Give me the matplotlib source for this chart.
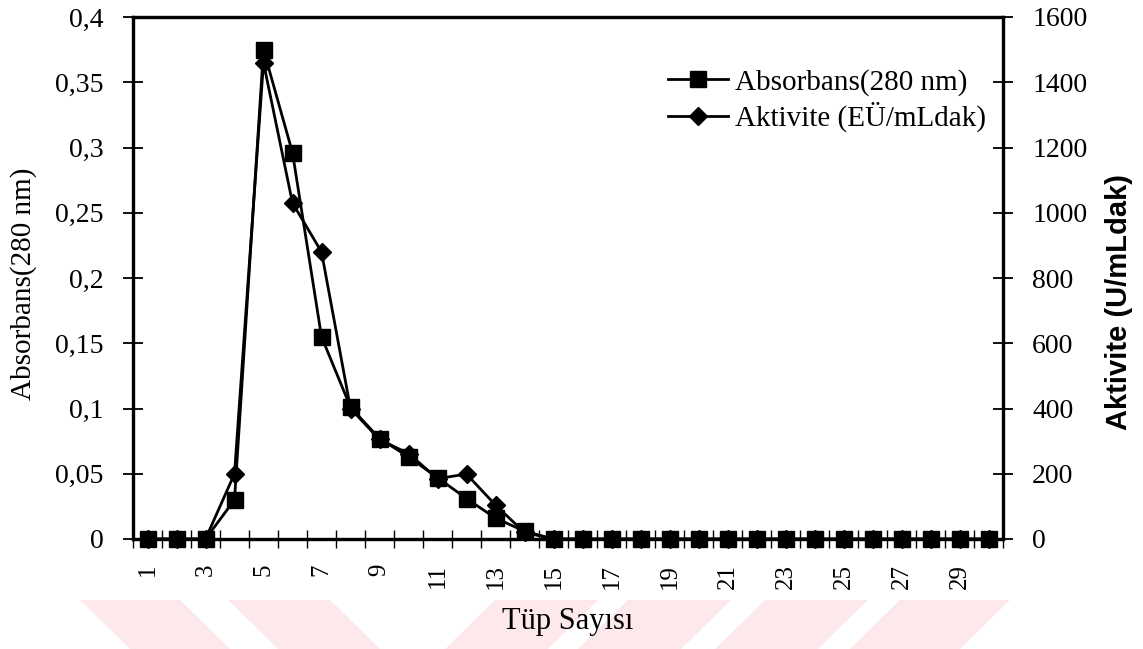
import matplotlib
matplotlib.use('Agg')
import matplotlib.pyplot as plt
from matplotlib.patches import Polygon
from matplotlib.lines import Line2D
import numpy as np

# ---- data ----
tubes = list(range(1, 31))
absorbans = [0, 0, 0, 0.030, 0.375, 0.296, 0.155, 0.101, 0.077, 0.063,
             0.047, 0.031, 0.016, 0.006] + [0] * 16
aktivite = [0, 0, 0, 200, 1460, 1030, 880, 400, 305, 262,
            185, 199, 104, 20] + [0] * 16
xtick_values = list(range(1, 31, 2))
xtick_labels = [str(v) for v in xtick_values]
left_ticks = [0, 0.05, 0.1, 0.15, 0.2, 0.25, 0.3, 0.35, 0.4]
left_labels = ['0', '0,05', '0,1', '0,15', '0,2', '0,25', '0,3', '0,35', '0,4']
right_ticks = [0, 200, 400, 600, 800, 1000, 1200, 1400, 1600]
right_labels = [str(v) for v in right_ticks]

SERIF = 'Liberation Serif'
SANS = 'Liberation Sans'

W, H = 1143, 649
fig = plt.figure(figsize=(W / 100, H / 100), dpi=100)
fig.patch.set_facecolor('white')

# watermark bands (light pink) in the bottom strip
pink = '#fde8ec'
y_top, y_bot = 600, 649
bands = [(80, 180, 50), (228, 330, 50), (495, 598, -50),
         (628, 731, -50), (765, 868, -50), (900, 1010, -50)]
for x0, x1, d in bands:
    pts = [(x0 / W, 1 - y_top / H), (x1 / W, 1 - y_top / H),
           ((x1 + d) / W, 1 - y_bot / H), ((x0 + d) / W, 1 - y_bot / H)]
    fig.add_artist(Polygon(pts, closed=True, transform=fig.transFigure,
                           facecolor=pink, edgecolor='none', zorder=-5))

L, R, T, B = 133, 1003, 17, 539
ax = fig.add_axes([L / W, 1 - B / H, (R - L) / W, (B - T) / H])
ax2 = ax.twinx()

ax.plot(tubes, absorbans, color='black', lw=2.0, marker='s', ms=12,
        clip_on=False, zorder=4)
ax2.plot(tubes, aktivite, color='black', lw=2.0, marker='D', ms=9,
         clip_on=False, zorder=3)
ax.set_zorder(ax2.get_zorder() + 1)
ax.patch.set_visible(False)

ax.set_xlim(0.5, 30.5)
ax.set_ylim(0, 0.4)
ax2.set_ylim(0, 1600)

ax.set_xticks(xtick_values)
ax.set_xticklabels(xtick_labels, rotation=90, fontfamily=SERIF, fontsize=18)
ax.set_xticks(np.arange(0.5, 31, 1), minor=True)
ax.tick_params(axis='x', which='major', length=0, pad=18)
ax.tick_params(axis='x', which='minor', direction='inout', length=13, width=1.0)

ax.set_yticks(left_ticks)
ax.set_yticklabels(left_labels, fontfamily=SERIF, fontsize=20)
ax.tick_params(axis='y', direction='inout', length=14, width=1.3, pad=14)

ax2.set_yticks(right_ticks)
ax2.set_yticklabels(right_labels, fontfamily=SERIF, fontsize=20)
ax2.tick_params(axis='y', direction='inout', length=14, width=1.3, pad=14)

for a in (ax, ax2):
    for s in a.spines.values():
        s.set_linewidth(2.3)

fig.text(24 / W, 1 - 284 / H, 'Absorbans(280 nm)', rotation=90,
         ha='center', va='center', fontfamily=SERIF, fontsize=21)
fig.text(568 / W, 1 - 622 / H, 'Tüp Sayısı', ha='center', va='center',
         fontfamily=SERIF, fontsize=22)
fig.text(1119 / W, 1 - 302 / H, 'Aktivite (U/mLdak)', rotation=90,
         ha='center', va='center', fontfamily=SANS, fontweight='bold',
         fontsize=21)

handles = [Line2D([], [], color='black', lw=2.0, marker='s', ms=12),
           Line2D([], [], color='black', lw=2.0, marker='D', ms=9)]
leg = ax.legend(handles, ['Absorbans(280 nm)', 'Aktivite (EÜ/mLdak)'],
                loc='upper left', bbox_to_anchor=(668 / W, 1 - 69 / H),
                bbox_transform=fig.transFigure, frameon=False,
                prop={'family': SERIF, 'size': 21}, handlelength=2.05,
                handletextpad=0.25, labelspacing=0.2, borderpad=0,
                borderaxespad=0)

fig.savefig('out.png', dpi=100)
